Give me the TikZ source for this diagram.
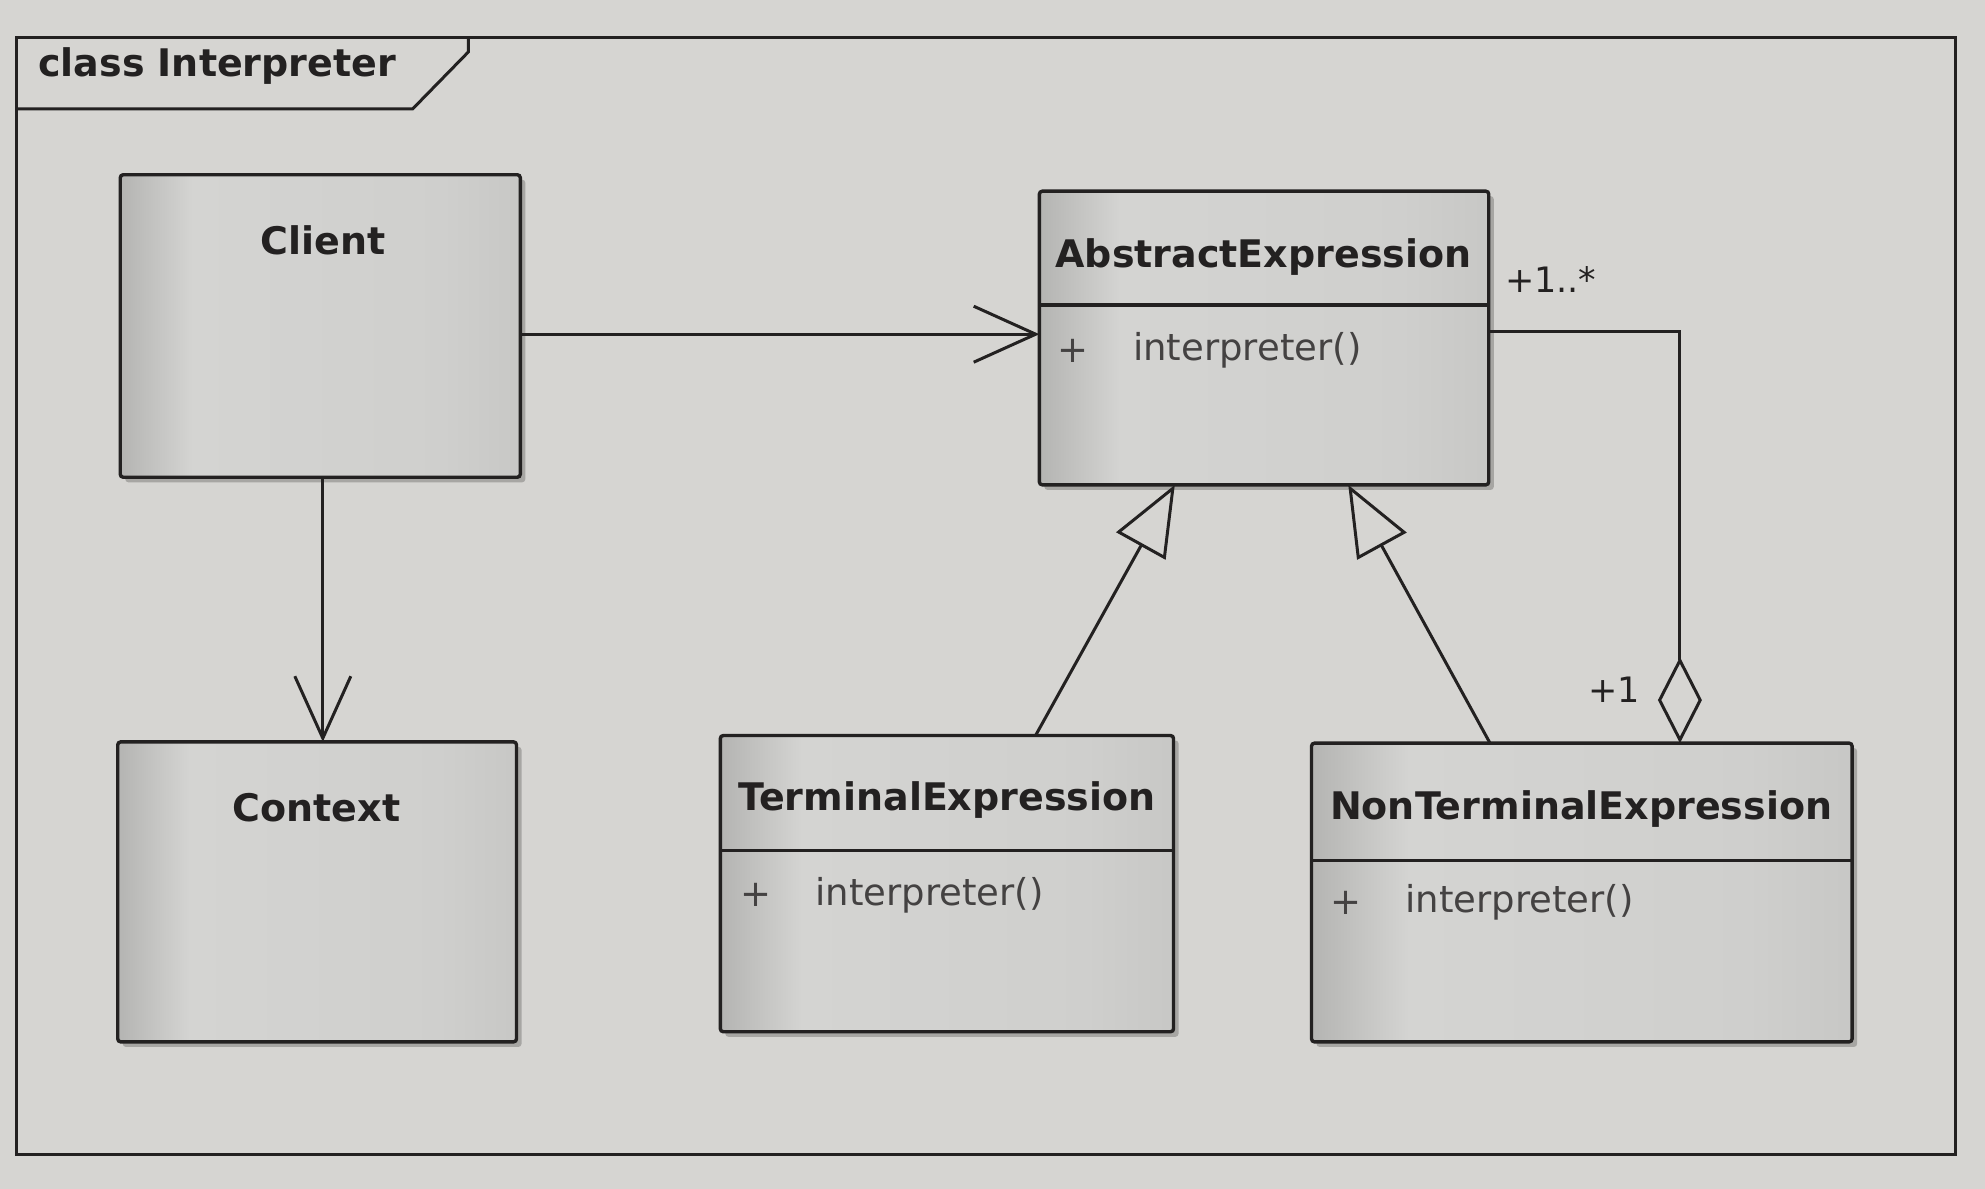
\documentclass[tikz,border=0pt]{standalone}
\usepackage{fontspec}
\setmainfont{DejaVu Sans}
\usetikzlibrary{arrows.meta,fit,shadows}
\definecolor{bgcol}{RGB}{214,213,210}
\definecolor{boxdark}{RGB}{162,162,160}
\definecolor{boxlight}{RGB}{212,212,210}
\definecolor{boxright}{RGB}{180,180,178}
\definecolor{inkcol}{RGB}{35,33,33}
\pgfdeclarehorizontalshading{boxshade}{100bp}{color(0bp)=(boxdark); color(22bp)=(boxdark!85!boxlight); color(34bp)=(boxlight); color(65bp)=(boxlight!85!boxright); color(100bp)=(boxright)}
\tikzset{
  umlbox/.style={draw=inkcol, line width=3.4pt, shading=boxshade, inner sep=0pt, outer sep=0pt, rounded corners=3pt,
    drop shadow={shadow xshift=5pt, shadow yshift=-5pt, fill=black, opacity=0.22}},
  clsname/.style={font=\fontsize{38}{44}\selectfont\bfseries, text=inkcol, inner sep=0pt},
  member/.style={font=\fontsize{37}{44}\selectfont, text=inkcol!85, anchor=west, inner sep=0pt},
  mult/.style={font=\fontsize{35}{42}\selectfont, text=inkcol, inner sep=0pt},
  frametitle/.style={font=\fontsize{38}{44}\selectfont\bfseries, text=inkcol, anchor=west, inner sep=0pt},
  conn/.style={draw=inkcol, line width=3pt},
  assoc/.style={conn, -{Straight Barb[length=62pt,width=56pt,line width=3pt]}},
  gen/.style={conn, -{Triangle[open,length=70pt,width=56pt,line width=3pt,fill=bgcol]}},
  agg/.style={conn, {Diamond[open,length=86pt,width=44pt,line width=3pt,fill=bgcol]}-},
  sep/.style={draw=inkcol, line width=3.2pt}
}
\begin{document}
\begin{tikzpicture}[x=1.266pt,y=-1.266pt]
\fill[bgcol] (0,0) rectangle (1568,939);
\useasboundingbox (0,0) rectangle (1568,939);
% frame
\draw[inkcol, line width=3pt] (13,30) rectangle (1545,912);
\draw[inkcol, line width=3pt] (13,86) -- (326,86) -- (370,41) -- (370,30);
\node[frametitle] (ftitle) at (30,52) {class Interpreter};
% boxes
\node[umlbox, fit={(95,138) (411,377)}] (client) {};
\node[umlbox, fit={(93,586) (408,823)}] (context) {};
\node[umlbox, fit={(821,151) (1176,383)}] (abs) {};
\node[umlbox, fit={(569,581) (927,815)}] (term) {};
\node[umlbox, fit={(1036,587) (1463,823)}] (nonterm) {};
% separators
\draw[sep] (abs.west |- 0,241) -- (abs.east |- 0,241);
\draw[sep] (term.west |- 0,672) -- (term.east |- 0,672);
\draw[sep] (nonterm.west |- 0,680) -- (nonterm.east |- 0,680);
% names
\node[clsname] (clientname) at (255,190) {Client};
\node[clsname] (contextname) at (250,638) {Context};
\node[clsname] (absname) at (998,203) {AbstractExpression};
\node[clsname] (termname) at (748,632) {TerminalExpression};
\node[clsname] (nontermname) at (1249,639) {NonTerminalExpression};
% members
\node[member] (absplus) at (835,277) {+};
\node[member] (absop) at (895,277) {interpreter()};
\node[member] (termplus) at (585,707) {+};
\node[member] (termop) at (644,707) {interpreter()};
\node[member] (nontermplus) at (1051,713) {+};
\node[member] (nontermop) at (1110,713) {interpreter()};
% connectors
\draw[assoc] (client.east |- 0,264) -- (abs.west |- 0,264);
\draw[assoc] (client.south -| 255,0) -- (context.north -| 255,0);
\draw[gen] (term.north -| 818,0) -- (abs.south -| 928,0);
\draw[gen] (nonterm.north -| 1177,0) -- (abs.south -| 1065,0);
\draw[agg] (nonterm.north -| 1327,0) |- (abs.east |- 0,262);
% multiplicities
\node[mult] (m1) at (1225,221) {+1..*};
\node[mult] (m2) at (1275,545) {+1};
\end{tikzpicture}
\end{document}
